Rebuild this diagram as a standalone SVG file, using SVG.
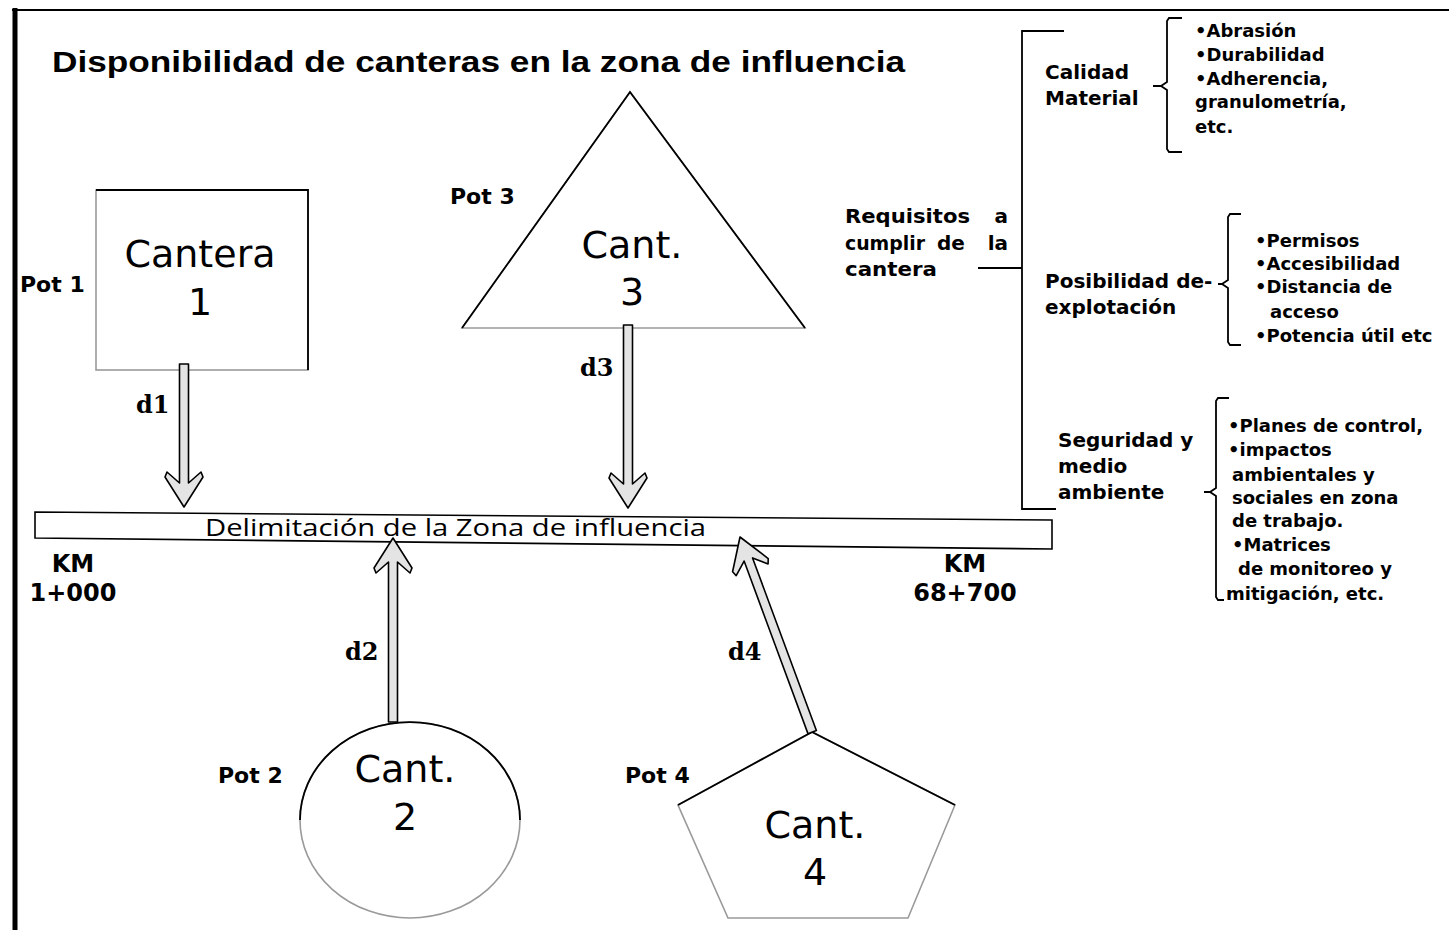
<svg xmlns="http://www.w3.org/2000/svg" width="1449" height="930" viewBox="0 0 1449 930">
<style>
.title{font-family:"Liberation Sans",Arial,sans-serif;font-weight:bold;font-size:30px;fill:#000}
.node{font-family:"DejaVu Sans",Verdana,sans-serif;font-size:38px;fill:#000;text-anchor:middle}
.pot{font-family:"DejaVu Sans",Verdana,sans-serif;font-weight:bold;font-size:22px;fill:#000}
.dl{font-family:"DejaVu Serif","Liberation Serif",serif;font-weight:bold;font-size:24px;fill:#000}
.km{font-family:"DejaVu Sans",Verdana,sans-serif;font-weight:bold;font-size:24px;fill:#000;text-anchor:middle}
.bar{font-family:"Open Sans","DejaVu Sans",sans-serif;font-size:24px;fill:#000}
.rt{font-family:"DejaVu Sans",Verdana,sans-serif;font-weight:bold;font-size:20px;fill:#000}
.it{font-family:"DejaVu Sans",Verdana,sans-serif;font-weight:bold;font-size:18px;fill:#000}
.arrow{fill:#e4e4e4;stroke:#000;stroke-width:1.6;stroke-linejoin:round}
.line{fill:none;stroke:#000;stroke-width:1.8}
</style>
<rect x="0" y="0" width="1449" height="930" fill="#fff"/>
<g id="frame">
<line x1="15" y1="8" x2="15" y2="930" stroke="#000" stroke-width="5"/>
<line x1="12" y1="10" x2="1449" y2="10" stroke="#000" stroke-width="2"/>
</g>
<text id="title" class="title" x="52" y="72" textLength="853" lengthAdjust="spacingAndGlyphs">Disponibilidad de canteras en la zona de influencia</text>

<g id="cantera1">
<rect x="96" y="190" width="212" height="180" fill="#fff" stroke="#9a9a9a" stroke-width="1.6"/>
<polyline class="line" points="96,190 308,190 308,370"/>
<text class="node" x="200" y="267">Cantera</text>
<text class="node" x="200" y="315">1</text>
</g>
<text id="pot1" class="pot" x="20" y="292">Pot 1</text>

<g id="cantera3">
<polygon points="630,92 805,328 462,328" fill="#fff" stroke="#9a9a9a" stroke-width="1.6"/>
<polyline class="line" points="462,328 630,92 805,328"/>
<text class="node" x="632" y="258">Cant.</text>
<text class="node" x="632" y="305">3</text>
</g>
<text id="pot3" class="pot" x="450" y="204">Pot 3</text>

<g id="zona">
<polygon points="35,512 1052,520 1052,549 35,538" fill="#fff" stroke="#000" stroke-width="1.6"/>
<text class="bar" x="205" y="536" textLength="501" lengthAdjust="spacingAndGlyphs">Delimitación de la Zona de influencia</text>
</g>
<text id="km1" class="km" x="73"><tspan x="73" y="572">KM</tspan><tspan x="73" y="601">1+000</tspan></text>
<text id="km2" class="km" x="965"><tspan x="965" y="572">KM</tspan><tspan x="965" y="601">68+700</tspan></text>

<g id="cantera2">
<ellipse cx="410" cy="820" rx="110" ry="98" fill="#fff" stroke="#9a9a9a" stroke-width="1.6"/>
<path class="line" d="M300,820 A110,98 0 0 1 520,820"/>
<text class="node" x="405" y="782">Cant.</text>
<text class="node" x="405" y="830">2</text>
</g>
<text id="pot2" class="pot" x="218" y="783">Pot 2</text>

<g id="cantera4">
<polygon points="812,732 955,805 908,918 728,918 678,805" fill="#fff" stroke="#9a9a9a" stroke-width="1.6"/>
<polyline class="line" points="678,805 812,732 955,805"/>
<text class="node" x="815" y="838">Cant.</text>
<text class="node" x="815" y="885">4</text>
</g>
<text id="pot4" class="pot" x="625" y="783">Pot 4</text>

<g id="connectors">
<polygon class="arrow" transform="translate(184,507) rotate(180)" points="0,0 19,30 17,35 4.5,24 4.5,143 -4.5,143 -4.5,24 -17,35 -19,30"/>
<polygon class="arrow" transform="translate(628,508) rotate(180)" points="0,0 19,30 17,35 4.5,24 4.5,183 -4.5,183 -4.5,24 -17,35 -19,30"/>
<polygon class="arrow" transform="translate(393,538)" points="0,0 19,30 17,35 4.5,24 4.5,184 -4.5,184 -4.5,24 -17,35 -19,30"/>
<polygon class="arrow" transform="translate(740,537) rotate(-20.3)" points="0,0 19,30 17,35 4.5,24 4.5,208 -4.5,208 -4.5,24 -17,35 -19,30"/>
<text class="dl" x="136" y="413">d1</text>
<text class="dl" x="580" y="376">d3</text>
<text class="dl" x="345" y="660">d2</text>
<text class="dl" x="728" y="660">d4</text>
</g>

<g id="requisitos">
<text class="rt" x="845" y="223" textLength="125" lengthAdjust="spacingAndGlyphs">Requisitos</text>
<text class="rt" x="1008" y="223" text-anchor="end">a</text>
<text class="rt" x="845" y="250" textLength="80" lengthAdjust="spacingAndGlyphs">cumplir</text>
<text class="rt" x="937" y="250">de</text>
<text class="rt" x="1008" y="250" text-anchor="end">la</text>
<text class="rt" x="845" y="276" textLength="92" lengthAdjust="spacingAndGlyphs">cantera</text>
<line class="line" x1="978" y1="268" x2="1022" y2="268"/>
<polyline class="line" points="1064,31 1022,31 1022,509 1056,509"/>
</g>

<g id="calidad">
<text class="rt" x="1045" y="79">Calidad</text>
<text class="rt" x="1045" y="105">Material</text>
<path class="line" d="M1153,86 L1161,86 M1182,18 L1169,18 L1167,21 L1167,82 L1161,86 L1167,90 L1167,149 L1169,152 L1182,152"/>
<text class="it" x="1195" y="37">•Abrasión</text>
<text class="it" x="1195" y="61">•Durabilidad</text>
<text class="it" x="1195" y="85">•Adherencia,</text>
<text class="it" x="1195" y="108">granulometría,</text>
<text class="it" x="1195" y="133">etc.</text>
</g>

<g id="posibilidad">
<text class="rt" x="1045" y="288">Posibilidad de-</text>
<text class="rt" x="1045" y="314">explotación</text>
<path class="line" d="M1218,284 L1222,284 M1241,214 L1230,214 L1228,217 L1228,280 L1222,284 L1228,288 L1228,342 L1230,345 L1241,345"/>
<text class="it" x="1255" y="247">•Permisos</text>
<text class="it" x="1255" y="270">•Accesibilidad</text>
<text class="it" x="1255" y="293">•Distancia de</text>
<text class="it" x="1270" y="318">acceso</text>
<text class="it" x="1255" y="342">•Potencia útil  etc</text>
</g>

<g id="seguridad">
<text class="rt" x="1058" y="447">Seguridad y</text>
<text class="rt" x="1058" y="473">medio</text>
<text class="rt" x="1058" y="499">ambiente</text>
<path class="line" d="M1204,492 L1210,492 M1229,398 L1218,398 L1216,401 L1216,488 L1210,492 L1216,496 L1216,597 L1218,600 L1224,600"/>
<text class="it" x="1228" y="432">•Planes de control,</text>
<text class="it" x="1228" y="456">•impactos</text>
<text class="it" x="1232" y="481">ambientales y</text>
<text class="it" x="1232" y="504">sociales en zona</text>
<text class="it" x="1232" y="527">de trabajo.</text>
<text class="it" x="1232" y="551">•Matrices</text>
<text class="it" x="1238" y="575">de monitoreo y</text>
<text class="it" x="1226" y="600">mitigación, etc.</text>
</g>
</svg>
